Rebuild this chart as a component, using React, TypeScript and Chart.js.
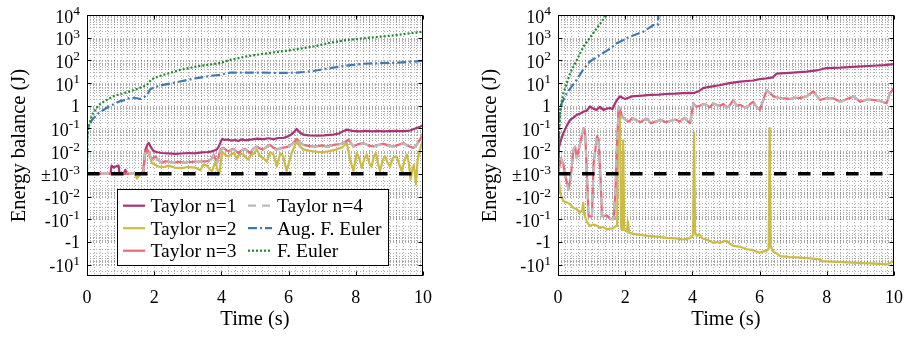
import React, { useEffect, useRef } from 'react';
import { Chart, registerables } from 'chart.js';

Chart.register(...registerables);

// ---------------- labels & ticks ----------------
const SERIES_LABELS = ['Taylor n=1', 'Taylor n=2', 'Taylor n=3', 'Taylor n=4', 'Aug. F. Euler', 'F. Euler'];
const X_TITLE = 'Time (s)';
const Y_TITLE = 'Energy balance (J)';
const X_TICKS = [0, 2, 4, 6, 8, 10];
const Y_TICK_VALUES = [1e4, 1e3, 1e2, 1e1, 1, 1e-1, 1e-2, 1e-3, -1e-2, -1e-1, -1, -1e1];
const Y_TICK_BASES = ['10', '10', '10', '10', '1', '10', '10', '±10', '-10', '-10', '-1', '-10'];
const Y_TICK_EXPS = ['4', '3', '2', '1', '', '-1', '-2', '-3', '-2', '-1', '', '1'];
const X_LIMITS = [0, 10];
const Y_LIMITS = [-(10 ** 1.5), 1e4];
const THRESHOLD_TIME = [0, 10];
const THRESHOLD_ENERGY = [1e-3, 1e-3];

// ---------------- left panel data ----------------
const L_TIME_N1 = [0, 0.70, 0.73, 0.80, 0.88, 0.94, 0.97, 1.10, 1.14, 1.18, 1.67, 1.74, 1.80, 1.84, 1.90, 1.98, 2.10, 2.23, 2.40, 2.63, 2.80, 3.03, 3.20, 3.42, 3.60, 3.72, 3.85, 3.92, 4.02, 4.10, 4.20, 4.30, 4.41, 4.50, 4.60, 4.72, 4.85, 5.05, 5.25, 5.40, 5.55, 5.70, 5.84, 6.00, 6.12, 6.24, 6.34, 6.44, 6.60, 6.84, 7.05, 7.33, 7.50, 7.62, 7.73, 7.90, 8.13, 8.30, 8.50, 8.65, 8.82, 9.00, 9.20, 9.40, 9.61, 9.81, 9.92, 10];
const L_ENERGY_N1 = [0, 0, 2.3e-3, 1.9e-3, 2.2e-3, 2.3e-3, 0, 0, 1.5e-3, 0, 0, 1.2e-2, 2.0e-2, 2.3e-2, 1.5e-2, 1.0e-2, 9.0e-3, 8.3e-3, 8.0e-3, 7.6e-3, 7.9e-3, 8.3e-3, 8.0e-3, 8.9e-3, 9.2e-3, 9.8e-3, 1.15e-2, 1.6e-2, 3.5e-2, 3.1e-2, 3.3e-2, 2.9e-2, 3.1e-2, 2.8e-2, 3.3e-2, 3.0e-2, 3.2e-2, 3.6e-2, 3.4e-2, 3.7e-2, 3.4e-2, 3.8e-2, 3.8e-2, 4.6e-2, 6.0e-2, 9.5e-2, 6.5e-2, 5.4e-2, 5.0e-2, 4.8e-2, 5.0e-2, 5.4e-2, 6.0e-2, 7.5e-2, 8.9e-2, 7.8e-2, 7.4e-2, 7.8e-2, 7.4e-2, 7.8e-2, 7.4e-2, 7.6e-2, 7.8e-2, 7.7e-2, 8.1e-2, 1.05e-1, 1.2e-1, 1.45e-1];

const L_TIME_N2 = [0, 1.40, 1.45, 1.49, 1.55, 1.60, 1.67, 1.72, 1.79, 1.86, 1.93, 2.05, 2.13, 2.30, 2.43, 2.60, 2.83, 3.00, 3.22, 3.37, 3.47, 3.57, 3.65, 3.72, 3.82, 3.90, 3.94, 4.02, 4.12, 4.22, 4.30, 4.37, 4.46, 4.56, 4.66, 4.74, 4.81, 4.90, 4.96, 5.05, 5.15, 5.25, 5.35, 5.45, 5.55, 5.65, 5.75, 5.84, 5.94, 6.09, 6.24, 6.34, 6.44, 6.60, 6.74, 6.90, 7.03, 7.20, 7.43, 7.60, 7.73, 7.83, 7.93, 8.03, 8.10, 8.18, 8.26, 8.33, 8.40, 8.47, 8.54, 8.60, 8.66, 8.72, 8.80, 8.87, 8.95, 9.02, 9.10, 9.21, 9.30, 9.37, 9.45, 9.52, 9.58, 9.63, 9.68, 9.73, 9.79, 9.84, 9.91, 10];
const L_ENERGY_N2 = [0, 0, -1.2e-3, -1.6e-3, -1.2e-3, 0, 0, 6e-3, 1.2e-2, 6e-3, 3e-3, 2.4e-3, 2.1e-3, 2.0e-3, 2.3e-3, 1.9e-3, 1.8e-3, 2.0e-3, 1.9e-3, 1.45e-3, 2.6e-3, 2.3e-3, 1.6e-3, 1.3e-3, 3.5e-3, 1.2e-3, 0, 9.8e-3, 6.5e-3, 5.9e-3, 7.5e-3, 8.3e-3, 4.6e-3, 8e-3, 7e-3, 5e-3, 4.3e-3, 8e-3, 7.5e-3, 1.2e-2, 6e-3, 5e-3, 3.5e-3, 9e-3, 7e-3, 2.1e-3, 8e-3, 6e-3, 1.3e-3, 8.3e-3, 2.7e-2, 1.6e-2, 1.2e-2, 1.05e-2, 9.8e-3, 9.2e-3, 9e-3, 1.0e-2, 1.2e-2, 1.5e-2, 2.3e-2, 4.3e-3, 1.3e-3, 8.3e-3, 5e-3, 1.8e-3, 5e-3, 7e-3, 3e-3, 2.1e-3, 6e-3, 8.3e-3, 3e-3, 1.3e-3, 4e-3, 6e-3, 3e-3, 2.1e-3, 5e-3, 6e-3, 2.5e-3, 1.3e-3, 4e-3, 7e-3, 3e-3, -1.8e-3, 1.5e-3, 2.5e-3, -2.9e-3, 4e-3, 1.2e-2, 3.2e-2];

const L_TIME_N3 = [0, 1.67, 1.72, 1.79, 1.85, 1.93, 2.03, 2.13, 2.23, 2.33, 2.43, 2.53, 2.63, 2.73, 2.83, 2.93, 3.02, 3.12, 3.22, 3.32, 3.42, 3.52, 3.62, 3.70, 3.77, 3.87, 3.97, 4.07, 4.15, 4.22, 4.30, 4.37, 4.44, 4.51, 4.60, 4.71, 4.78, 4.86, 4.95, 5.05, 5.15, 5.25, 5.35, 5.45, 5.55, 5.65, 5.80, 5.94, 6.10, 6.24, 6.34, 6.44, 6.60, 6.74, 6.90, 7.00, 7.12, 7.23, 7.35, 7.45, 7.55, 7.63, 7.78, 7.93, 8.05, 8.22, 8.37, 8.52, 8.67, 8.82, 8.97, 9.12, 9.27, 9.41, 9.56, 9.71, 9.80, 9.91, 10];
const L_ENERGY_N3 = [0, 0, 8e-3, 1.25e-2, 8e-3, 4.3e-3, 5.9e-3, 4e-3, 3e-3, 3.6e-3, 3.5e-3, 3.1e-3, 3.2e-3, 3.4e-3, 3.3e-3, 3.1e-3, 3.4e-3, 3.3e-3, 3.5e-3, 3.4e-3, 3.6e-3, 3.5e-3, 3.8e-3, 4.5e-3, 7e-3, 3e-3, 1.2e-2, 1.4e-2, 1.1e-2, 9.8e-3, 1.2e-2, 1.26e-2, 1.0e-2, 8.3e-3, 1.1e-2, 1.26e-2, 1.0e-2, 8.3e-3, 1.3e-2, 1.6e-2, 1.3e-2, 1.2e-2, 1.6e-2, 1.9e-2, 1.4e-2, 1.2e-2, 1.4e-2, 1.5e-2, 2.0e-2, 3.5e-2, 2.4e-2, 1.9e-2, 1.7e-2, 1.6e-2, 1.7e-2, 1.8e-2, 1.6e-2, 1.7e-2, 1.9e-2, 2.0e-2, 2.1e-2, 2.3e-2, 3.2e-2, 1.6e-2, 2.0e-2, 2.3e-2, 1.8e-2, 1.6e-2, 1.9e-2, 2.1e-2, 1.8e-2, 1.6e-2, 1.9e-2, 2.3e-2, 1.7e-2, 1.4e-2, 1.8e-2, 3.2e-2, 6.3e-2];

const L_TIME_N4 = L_TIME_N3;
const L_ENERGY_N4 = [0, 0, 7.5e-3, 1.15e-2, 7.6e-3, 4.1e-3, 5.6e-3, 3.9e-3, 2.9e-3, 3.5e-3, 3.4e-3, 3.0e-3, 3.1e-3, 3.3e-3, 3.2e-3, 3.0e-3, 3.3e-3, 3.2e-3, 3.4e-3, 3.3e-3, 3.5e-3, 3.4e-3, 3.7e-3, 4.4e-3, 6.8e-3, 2.9e-3, 1.15e-2, 1.35e-2, 1.07e-2, 9.5e-3, 1.16e-2, 1.22e-2, 9.7e-3, 8.1e-3, 1.07e-2, 1.22e-2, 9.7e-3, 8.1e-3, 1.26e-2, 1.55e-2, 1.26e-2, 1.16e-2, 1.55e-2, 1.84e-2, 1.36e-2, 1.16e-2, 1.36e-2, 1.46e-2, 1.94e-2, 3.4e-2, 2.3e-2, 1.84e-2, 1.65e-2, 1.55e-2, 1.65e-2, 1.75e-2, 1.55e-2, 1.65e-2, 1.84e-2, 1.94e-2, 2.04e-2, 2.23e-2, 3.1e-2, 1.55e-2, 1.94e-2, 2.23e-2, 1.75e-2, 1.55e-2, 1.84e-2, 2.04e-2, 1.75e-2, 1.55e-2, 1.84e-2, 2.23e-2, 1.65e-2, 1.36e-2, 1.75e-2, 3.1e-2, 6.0e-2];

const L_TIME_AUG = [0, 0.01, 0.05, 0.15, 0.35, 0.65, 0.98, 1.14, 1.28, 1.45, 1.58, 1.70, 1.80, 1.88, 2.00, 2.27, 2.77, 3.26, 3.70, 3.96, 4.26, 4.60, 5.25, 5.80, 6.24, 6.50, 6.74, 7.00, 7.23, 7.50, 7.73, 8.22, 8.70, 9.22, 9.60, 10];
const L_ENERGY_AUG = [0, 0.06, 0.12, 0.24, 0.48, 0.93, 1.6, 1.8, 2.3, 2.2, 2.0, 2.4, 3.2, 5.4, 6.5, 8.3, 11.7, 16.6, 21, 23, 29, 29, 29, 28, 29, 31, 34, 40, 46, 52, 59, 71, 75, 79, 86, 95];

const L_TIME_FE = [0, 0.01, 0.05, 0.15, 0.35, 0.55, 0.78, 1.00, 1.28, 1.55, 1.78, 1.93, 2.10, 2.27, 2.77, 3.26, 3.96, 4.26, 4.75, 5.25, 5.74, 6.24, 6.74, 7.23, 7.70, 8.22, 8.70, 9.22, 9.60, 10];
const L_ENERGY_FE = [0, 0.05, 0.12, 0.4, 1.1, 1.7, 2.6, 3.3, 4.3, 6, 8.3, 15, 19, 23, 38, 54, 76, 105, 150, 195, 245, 310, 410, 600, 780, 940, 1100, 1300, 1550, 1850];

// ---------------- right panel data ----------------
const R_TIME_N1 = [0, 0.03, 0.10, 0.16, 0.26, 0.36, 0.46, 0.56, 0.66, 0.76, 0.85, 0.95, 1.05, 1.15, 1.25, 1.35, 1.45, 1.55, 1.62, 1.70, 1.78, 1.85, 1.93, 2.00, 2.20, 2.50, 2.74, 3.00, 3.20, 3.50, 3.73, 3.90, 4.03, 4.20, 4.32, 4.42, 4.80, 5.10, 5.42, 5.80, 6.00, 6.20, 6.40, 6.50, 7.00, 7.40, 7.70, 7.99, 8.40, 8.90, 9.38, 9.70, 10];
const R_ENERGY_N1 = [1e-3, 1.5e-2, 3.5e-2, 6.3e-2, 0.13, 0.24, 0.3, 0.4, 0.45, 0.56, 0.6, 0.93, 0.75, 0.66, 0.9, 0.66, 0.75, 0.8, 0.7, 1.3, 2.0, 2.6, 2.2, 2.0, 2.6, 2.8, 3.0, 3.1, 3.3, 3.4, 3.6, 3.7, 3.6, 4.5, 6.0, 6.5, 8, 10, 11.7, 13, 15, 16, 18, 26, 29, 32, 36, 46, 48, 53, 58, 62, 68];

const R_TIME_N2 = [0, 0.03, 0.06, 0.16, 0.26, 0.36, 0.46, 0.56, 0.65, 0.72, 0.75, 0.78, 0.86, 0.95, 1.05, 1.15, 1.25, 1.35, 1.45, 1.55, 1.65, 1.72, 1.76, 1.79, 1.84, 1.88, 1.92, 1.94, 1.97, 2.05, 2.08, 2.12, 2.30, 2.50, 2.74, 3.00, 3.24, 3.50, 3.73, 3.90, 3.98, 4.02, 4.05, 4.08, 4.13, 4.20, 4.30, 4.42, 4.52, 4.62, 4.72, 4.82, 4.92, 5.02, 5.12, 5.22, 5.40, 5.62, 5.80, 6.01, 6.12, 6.22, 6.27, 6.30, 6.33, 6.38, 6.50, 6.61, 6.90, 7.20, 7.50, 7.80, 7.85, 8.30, 8.79, 9.30, 9.78, 10];
const R_ENERGY_N2 = [0, -2e-3, -6.9e-3, -0.016, -0.018, -0.022, -0.032, -0.036, -0.052, -0.04, -0.019, -0.06, -0.13, -0.2, -0.17, -0.19, -0.24, -0.22, -0.28, -0.26, -0.25, -0.2, -0.2, 0.66, 0.5, -0.25, -0.3, 0.03, -0.3, -0.35, -0.12, -0.4, -0.45, -0.5, -0.55, -0.6, -0.66, -0.7, -0.78, -0.7, -0.6, -0.5, 0.063, -0.4, -0.55, -0.45, -0.7, -0.78, -0.9, -1.1, -1.0, -1.1, -0.95, -0.9, -1.2, -1.5, -1.6, -2.1, -2.3, -3.0, -2.6, -2.4, -2.0, 0.105, -1.5, -2.4, -3.2, -4.2, -4.6, -4.9, -5.3, -5.9, -7.0, -7.5, -8.1, -8.8, -9.8, -6.9];

const R_TIME_N3 = [0, 0.09, 0.16, 0.23, 0.31, 0.38, 0.46, 0.51, 0.56, 0.66, 0.76, 0.81, 0.86, 0.91, 1.01, 1.06, 1.16, 1.21, 1.26, 1.31, 1.46, 1.56, 1.66, 1.71, 1.76, 1.81, 1.91, 2.01, 2.11, 2.21, 2.36, 2.46, 2.56, 2.66, 2.76, 2.90, 3.06, 3.20, 3.36, 3.50, 3.62, 3.76, 3.93, 4.03, 4.12, 4.22, 4.32, 4.42, 4.52, 4.62, 4.72, 4.82, 4.92, 5.02, 5.12, 5.22, 5.32, 5.42, 5.52, 5.62, 5.72, 5.81, 5.91, 6.01, 6.21, 6.41, 6.60, 6.90, 7.05, 7.20, 7.40, 7.60, 7.80, 8.00, 8.20, 8.40, 8.60, 8.80, 9.00, 9.20, 9.40, 9.60, 9.78, 9.88, 10];
const R_ENERGY_N3 = [0, 5e-3, 2.6e-3, -1.5e-3, -4.9e-3, -1.3e-3, 1.2e-2, 1.6e-2, 5e-3, 2.3e-2, 0.105, 5.4e-2, 0, -0.074, -0.074, 3e-3, 0.045, 0.032, 0, -0.074, -0.068, -0.1, -0.1, -4.9e-3, 0.032, 0.93, 0.34, 0.24, 0.2, 0.29, 0.22, 0.19, 0.24, 0.27, 0.17, 0.2, 0.24, 0.19, 0.22, 0.25, 0.2, 0.29, 0.17, 1.3, 0.9, 1.0, 1.2, 1.1, 0.85, 1.3, 1.1, 1.0, 1.2, 0.8, 1.1, 1.8, 1.0, 1.1, 0.9, 0.8, 1.2, 1.5, 0.9, 0.66, 5, 2.6, 2.2, 2.0, 2.3, 2.2, 2.6, 4.3, 1.8, 2.2, 2.1, 1.5, 2.0, 2.6, 1.5, 1.9, 1.8, 1.6, 1.3, 3.6, 6];

const R_TIME_N4 = R_TIME_N3;
const R_ENERGY_N4 = [0, 4.8e-3, 2.5e-3, -1.45e-3, -4.7e-3, -1.25e-3, 1.15e-2, 1.55e-2, 4.8e-3, 2.2e-2, 0.1, 5.2e-2, 0, -0.071, -0.072, 2.9e-3, 0.043, 0.031, 0, -0.072, -0.066, -0.097, -0.097, -4.7e-3, 0.031, 0.9, 0.33, 0.235, 0.195, 0.28, 0.215, 0.185, 0.235, 0.26, 0.165, 0.195, 0.235, 0.185, 0.215, 0.245, 0.195, 0.28, 0.165, 1.27, 0.88, 0.97, 1.17, 1.07, 0.83, 1.27, 1.07, 0.97, 1.17, 0.78, 1.07, 1.75, 0.97, 1.07, 0.88, 0.78, 1.17, 1.47, 0.88, 0.65, 4.9, 2.55, 2.15, 1.95, 2.25, 2.15, 2.55, 4.2, 1.77, 2.15, 2.05, 1.47, 1.95, 2.55, 1.47, 1.85, 1.77, 1.57, 1.27, 3.5, 5.8];

const R_TIME_AUG = [0, 0.02, 0.04, 0.11, 0.26, 0.56, 0.75, 0.95, 1.25, 1.50, 1.75, 2.14, 2.54, 2.84, 2.97, 3.00];
const R_ENERGY_AUG = [0, 0.02, 0.34, 1.3, 3.6, 14, 40, 89, 174, 300, 570, 1100, 1850, 3600, 3600, 20000];

const R_TIME_FE = [0, 0.02, 0.04, 0.06, 0.16, 0.36, 0.56, 0.76, 1.05, 1.30, 1.44, 1.50];
const R_ENERGY_FE = [0, 0.01, 0.063, 0.66, 3.6, 27, 105, 410, 1600, 5100, 10000, 15000];

// ---------------- styles ----------------
const COLORS = ['#AA3377', '#CCBB44', '#EE6677', '#BBBBBB', '#4477AA', '#228833'];
const DASHES: number[][] = [[], [], [], [8, 6], [9, 3, 2, 3], [2, 2]];
const LINE_W = 2.2;
const SERIF = '"Liberation Serif", "Times New Roman", serif';
const TICK_FS = 18;
const SUP_FS = 13.5;
const TITLE_FS = 20.5;
const LEGEND_FS = 19.5;
const GRID_COLOR = 'rgba(0,0,0,0.32)';

// symmetric log transform with linear threshold 1e-3
const LIN_THRESH = 1e-3;
function symlog(v: number): number {
  const a = Math.abs(v);
  if (a <= LIN_THRESH) return 0;
  return Math.sign(v) * (Math.log10(a) - Math.log10(LIN_THRESH));
}

type Series = { t: number[]; e: number[] };

function buildDatasets(series: Series[]) {
  const ds: any[] = series.map((s, i) => ({
    label: SERIES_LABELS[i],
    data: s.t.map((t, k) => ({ x: t, y: symlog(s.e[k] ?? 0) })),
    borderColor: COLORS[i],
    borderWidth: LINE_W,
    borderDash: DASHES[i],
    borderJoinStyle: 'round',
    borderCapStyle: DASHES[i].length ? 'butt' : 'round',
    pointRadius: 0,
    fill: false,
    tension: 0,
    order: 10 - i,
  }));
  ds.push({
    label: 'threshold',
    data: THRESHOLD_TIME.map((t, k) => ({ x: t, y: symlog(THRESHOLD_ENERGY[k]) })),
    borderColor: '#000',
    borderWidth: 3.5,
    borderDash: [12.5, 11.5],
    pointRadius: 0,
    fill: false,
    order: 0,
  });
  return ds;
}

function yGridValues(): number[] {
  const vals: number[] = [];
  const maxT = symlog(Y_LIMITS[1]);
  const minT = symlog(Y_LIMITS[0]);
  for (let d = -3; d <= 4; d++) {
    for (let k = 1; k <= 9; k++) {
      const v = k * 10 ** d;
      if (symlog(v) <= maxT + 1e-9) vals.push(v);
      if (symlog(-v) >= minT - 1e-9 && !(d === -3 && k === 1)) vals.push(-v);
    }
  }
  return vals;
}

function drawTickLabel(ctx: CanvasRenderingContext2D, base: string, exp: string, xRight: number, y: number) {
  ctx.textAlign = 'left';
  ctx.textBaseline = 'alphabetic';
  ctx.font = `${TICK_FS}px ${SERIF}`;
  const wb = ctx.measureText(base).width;
  ctx.font = `${SUP_FS}px ${SERIF}`;
  const we = exp ? ctx.measureText(exp).width : 0;
  const baseline = y + (exp ? 7.5 : 6);
  ctx.font = `${TICK_FS}px ${SERIF}`;
  ctx.fillText(base, xRight - wb - we, baseline);
  if (exp) {
    ctx.font = `${SUP_FS}px ${SERIF}`;
    ctx.fillText(exp, xRight - we, baseline - 7.5);
  }
}

const decorPlugin = {
  id: 'decor',
  beforeDatasetsDraw(chart: any) {
    const { ctx, chartArea: a, scales } = chart;
    const xs = scales.x;
    const ys = scales.y;
    ctx.save();
    ctx.strokeStyle = GRID_COLOR;
    ctx.lineWidth = 1;
    ctx.setLineDash([1, 2]);
    for (let k = 1; k < 50; k++) {
      const px = Math.round(xs.getPixelForValue(k * 0.2)) + 0.5;
      ctx.beginPath();
      ctx.moveTo(px, a.top);
      ctx.lineTo(px, a.bottom);
      ctx.stroke();
    }
    for (const v of yGridValues()) {
      const py = Math.round(ys.getPixelForValue(symlog(v))) + 0.5;
      if (py <= a.top + 1 || py >= a.bottom - 1) continue;
      ctx.beginPath();
      ctx.moveTo(a.left, py);
      ctx.lineTo(a.right, py);
      ctx.stroke();
    }
    ctx.restore();
  },
  afterDatasetsDraw(chart: any, _args: any, opts: any) {
    const { ctx, chartArea: a, scales } = chart;
    const xs = scales.x;
    const ys = scales.y;
    ctx.save();
    ctx.setLineDash([]);
    ctx.strokeStyle = '#000';
    ctx.lineWidth = 1;
    const L = Math.round(a.left) + 0.5;
    const R = Math.round(a.right) - 0.5;
    const T = Math.round(a.top) + 0.5;
    const B = Math.round(a.bottom) - 0.5;
    ctx.strokeRect(L, T, R - L, B - T);
    const TL = 4;
    ctx.beginPath();
    for (const v of X_TICKS) {
      const px = Math.round(xs.getPixelForValue(v)) + 0.5;
      ctx.moveTo(px, B); ctx.lineTo(px, B - TL);
      ctx.moveTo(px, T); ctx.lineTo(px, T + TL);
    }
    for (const v of Y_TICK_VALUES) {
      const py = Math.round(ys.getPixelForValue(symlog(v))) + 0.5;
      ctx.moveTo(L, py); ctx.lineTo(L + TL, py);
      ctx.moveTo(R, py); ctx.lineTo(R - TL, py);
    }
    ctx.stroke();

    ctx.fillStyle = '#000';
    ctx.font = `${TICK_FS}px ${SERIF}`;
    ctx.textAlign = 'center';
    ctx.textBaseline = 'alphabetic';
    for (const v of X_TICKS) {
      ctx.fillText(String(v), xs.getPixelForValue(v), a.bottom + 27);
    }
    Y_TICK_VALUES.forEach((v, i) => {
      drawTickLabel(ctx, Y_TICK_BASES[i], Y_TICK_EXPS[i], a.left - 7, ys.getPixelForValue(symlog(v)));
    });
    ctx.font = `${TITLE_FS}px ${SERIF}`;
    ctx.textAlign = 'center';
    ctx.fillText(X_TITLE, (a.left + a.right) / 2, a.bottom + 49);
    ctx.save();
    ctx.translate(a.left - 62, (a.top + a.bottom) / 2);
    ctx.rotate(-Math.PI / 2);
    ctx.fillText(Y_TITLE, 0, 0);
    ctx.restore();

    if (opts && opts.legend) {
      const bx = Math.round(a.left) + 30;
      const by = Math.round(a.top) + 174;
      const bw = 271;
      const bh = 76;
      ctx.fillStyle = '#fff';
      ctx.fillRect(bx, by, bw, bh);
      ctx.strokeStyle = '#000';
      ctx.lineWidth = 1;
      ctx.strokeRect(bx + 0.5, by + 0.5, bw, bh);
      const cols = [
        { line: 6, len: 22, text: 33.5 },
        { line: 131, len: 24, text: 160 },
      ];
      SERIES_LABELS.forEach((lab, i) => {
        const c = cols[Math.floor(i / 3)];
        const cy = by + 16.7 + (i % 3) * 22.5;
        ctx.strokeStyle = COLORS[i];
        ctx.lineWidth = LINE_W;
        ctx.setLineDash(DASHES[i]);
        ctx.beginPath();
        ctx.moveTo(bx + c.line, cy);
        ctx.lineTo(bx + c.line + c.len, cy);
        ctx.stroke();
        ctx.setLineDash([]);
        ctx.fillStyle = '#000';
        ctx.font = `${LEGEND_FS}px ${SERIF}`;
        ctx.textAlign = 'left';
        ctx.fillText(lab, bx + c.text, cy + 6.5);
      });
    }
    ctx.restore();
  },
};

function Panel({ series, padding, legend }: { series: Series[]; padding: any; legend: boolean }) {
  const ref = useRef<HTMLCanvasElement>(null);
  useEffect(() => {
    if (!ref.current) return;
    const chart = new Chart(ref.current, {
      type: 'line',
      data: { datasets: buildDatasets(series) },
      options: {
        animation: false,
        responsive: false,
        events: [],
        layout: { padding },
        plugins: {
          legend: { display: false },
          tooltip: { enabled: false },
          decor: { legend },
        } as any,
        scales: {
          x: { type: 'linear', min: X_LIMITS[0], max: X_LIMITS[1], display: false },
          y: { type: 'linear', min: symlog(Y_LIMITS[0]), max: symlog(Y_LIMITS[1]), display: false },
        },
      },
      plugins: [decorPlugin as any],
    });
    return () => chart.destroy();
  }, []);
  return <canvas ref={ref} width={455} height={337} style={{ display: 'block', width: 455, height: 337 }} />;
}

const LEFT_SERIES: Series[] = [
  { t: L_TIME_N1, e: L_ENERGY_N1 },
  { t: L_TIME_N2, e: L_ENERGY_N2 },
  { t: L_TIME_N3, e: L_ENERGY_N3 },
  { t: L_TIME_N4, e: L_ENERGY_N4 },
  { t: L_TIME_AUG, e: L_ENERGY_AUG },
  { t: L_TIME_FE, e: L_ENERGY_FE },
];
const RIGHT_SERIES: Series[] = [
  { t: R_TIME_N1, e: R_ENERGY_N1 },
  { t: R_TIME_N2, e: R_ENERGY_N2 },
  { t: R_TIME_N3, e: R_ENERGY_N3 },
  { t: R_TIME_N4, e: R_ENERGY_N4 },
  { t: R_TIME_AUG, e: R_ENERGY_AUG },
  { t: R_TIME_FE, e: R_ENERGY_FE },
];

export default function App() {
  return (
    <div style={{ position: 'absolute', left: 0, top: 0, width: 910, height: 337, display: 'flex', background: '#fff' }}>
      <Panel series={LEFT_SERIES} padding={{ left: 87, right: 32, top: 15, bottom: 61 }} legend={true} />
      <Panel series={RIGHT_SERIES} padding={{ left: 103, right: 16, top: 15, bottom: 61 }} legend={false} />
    </div>
  );
}
